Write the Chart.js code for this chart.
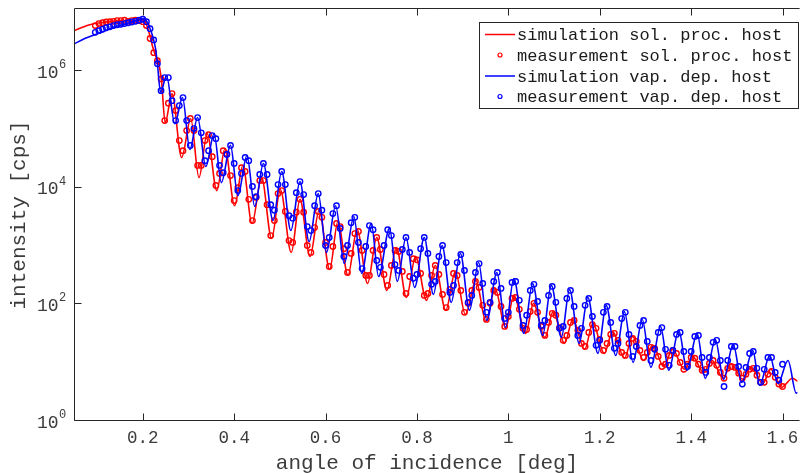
<!DOCTYPE html>
<html>
<head>
<meta charset="utf-8">
<script src="https://cdn.jsdelivr.net/npm/chart.js@4.4.1/dist/chart.umd.min.js"></script>
<style>
  html, body { margin: 0; padding: 0; background: #fff; overflow: hidden; }
  canvas { display: block; }
</style>
</head>
<body>
<canvas id="c" width="803" height="473"></canvas>
<script>
// Measurement scan angles [deg], shared by both samples
const scanAngles = [
  0.096,0.104,0.112,0.120,0.128,0.136,0.144,0.152,0.160,0.168,
  0.176,0.184,0.192,0.200,0.208,0.216,0.224,0.232,0.240,0.248,
  0.256,0.264,0.272,0.280,0.288,0.296,0.304,0.312,0.320,0.328,
  0.336,0.344,0.352,0.360,0.368,0.376,0.384,0.392,0.400,0.408,
  0.416,0.424,0.432,0.440,0.448,0.456,0.464,0.472,0.480,0.488,
  0.496,0.504,0.512,0.520,0.528,0.536,0.544,0.552,0.560,0.568,
  0.576,0.584,0.592,0.600,0.608,0.616,0.624,0.632,0.640,0.648,
  0.656,0.664,0.672,0.680,0.688,0.696,0.704,0.712,0.720,0.728,
  0.736,0.744,0.752,0.760,0.768,0.776,0.784,0.792,0.800,0.808,
  0.816,0.824,0.832,0.840,0.848,0.856,0.864,0.872,0.880,0.888,
  0.896,0.904,0.912,0.920,0.928,0.936,0.944,0.952,0.960,0.968,
  0.976,0.984,0.992,1.000,1.008,1.016,1.024,1.032,1.040,1.048,
  1.056,1.064,1.072,1.080,1.088,1.096,1.104,1.112,1.120,1.128,
  1.136,1.144,1.152,1.160,1.168,1.176,1.184,1.192,1.200,1.208,
  1.216,1.224,1.232,1.240,1.248,1.256,1.264,1.272,1.280,1.288,
  1.296,1.304,1.312,1.320,1.328,1.336,1.344,1.352,1.360,1.368,
  1.376,1.384,1.392,1.400,1.408,1.416,1.424,1.432,1.440,1.448,
  1.456,1.464,1.472,1.480,1.488,1.496,1.504,1.512,1.520,1.528,
  1.536,1.544,1.552,1.560,1.568,1.576,1.584,1.592,1.600
];

// Measured intensity [cps], solution-processed host
const measSolProc = [
  6.0e6,6.5e6,6.7e6,6.9e6,7.0e6,7.1e6,7.3e6,7.3e6,7.4e6,7.1e6,
  7.3e6,7.4e6,7.3e6,7.0e6,6.0e6,3.6e6,2.06e6,1.5e6,7.3e5,1.41e5,
  2.8e5,4.1e5,2.09e5,6.4e4,4.3e4,9.5e4,1.53e5,9.5e4,2.4e4,2.4e4,
  6.4e4,8.1e4,3.4e4,1.09e4,1.75e4,4.3e4,3.8e4,1.61e4,6.0e3,1.0e4,
  2.2e4,1.89e4,6.3e3,2.73e3,6.8e3,1.32e4,1.32e4,5.1e3,1.51e3,2.73e3,
  7.9e3,8.9e3,3.9e3,1.24e3,1.15e3,3.8e3,6.3e3,3.8e3,1.02e3,775,
  2.07e3,3.9e3,3.1e3,1.15e3,445,980,2.43e3,2.15e3,900,352,
  745,1.63e3,1.77e3,838,313,313,838,1.4e3,870,325,
  211,464,838,805,366,154,300,605,580,338,
  142,154,313,464,325,148,88,180,338,313,
  173,73,104,173,247,195,96,55,104,173,
  160,92,41.8,62,126,131,82,38.7,37,75,
  104,73,41.8,29.3,49,70,65,40,24.1,29.3,
  49,53,35.7,21.4,19.0,33,45,38.7,25,16.2,
  21.4,30.5,31.8,24.1,15.0,13.3,21.4,26.1,23.1,16.2,
  12.3,15.0,18.3,17.6,12.8,8.6,9.4,13.3,16.2,14.4,
  10.1,7.7,9.4,12.3,11.9,9.4,7.4,7.7,9.7,10.9,
  9.0,6.8,5.4,8.0,8.6,8.3,6.6,5.4,6.3,7.7,
  8.0,6.1,4.6,4.6,6.3,7.1,5.6,4.3,3.9
];

// Measured intensity [cps], vapour-deposited host
const measVapDep = [
  4.6e6,4.9e6,5.2e6,5.5e6,5.7e6,6.0e6,6.2e6,6.3e6,6.5e6,6.7e6,
  6.9e6,7.1e6,7.4e6,7.7e6,7.0e6,5.3e6,3.4e6,1.33e6,4.6e5,7.7e5,
  7.7e5,3.1e5,1.41e5,2.55e5,3.5e5,1.41e5,5.3e4,1.03e5,1.59e5,8.7e4,
  2.9e4,4.3e4,7.8e4,6.9e4,2.4e4,1.8e4,3.7e4,5.3e4,2.6e4,8.9e3,
  1.75e4,3.3e4,2.9e4,1.05e4,7.0e3,1.68e4,2.6e4,1.68e4,5.1e3,4.1e3,
  1.13e4,1.89e4,1.13e4,3.3e3,3.0e3,8.2e3,1.27e4,7.6e3,2.15e3,1.84e3,
  4.9e3,7.9e3,4.1e3,1.02e3,1.4e3,3.6e3,4.9e3,2.0e3,660,1.02e3,
  2.5e3,3.1e3,1.15e3,410,980,2.24e3,1.9e3,565,430,1.02e3,
  1.9e3,1.51e3,480,381,870,1.4e3,775,280,325,900,
  1.4e3,745,220,247,660,1.02e3,520,160,211,520,
  715,381,108,142,352,500,228,73,108,247,
  352,187,57,73,237,247,117,43.5,65,173,
  220,112,43.5,53,142,203,108,38.7,41.8,126,
  173,92,29.3,38.7,96,126,62,19.8,24.1,73,
  92,49,17.6,21.4,57,73,30.5,12.8,19.0,43.5,
  53,23.1,10.9,16.9,33,40,16.9,9.0,16.2,30.5,
  33,15.6,8.6,15.6,28.2,29.3,12.3,6.8,12.3,22.3,
  24.1,10.9,3.9,10.9,19.0,19.0,8.6,4.3,8.3,14.4,
  15.6,8.0,4.6,7.7,12.3,12.3,6.8,5.0,9.4
];

// Simulated reflectivity, solution-processed host (fringe maxima and minima)
const simSolAngles = [
  0.0495,0.084,0.128,0.171,0.199,0.208,0.215,0.221,0.228,0.234,
  0.241,0.249,0.264,0.285,0.305,0.323,0.341,0.362,0.380,0.401,
  0.419,0.439,0.460,0.482,0.501,0.525,0.544,0.566,0.586,0.609,
  0.627,0.649,0.669,0.692,0.712,0.734,0.755,0.777,0.797,0.821,
  0.840,0.863,0.884,0.906,0.929,0.951,0.971,0.994,1.012,1.038,
  1.055,1.080,1.098,1.123,1.141,1.167,1.185,1.210,1.228,1.254,
  1.272,1.296,1.316,1.340,1.359,1.385,1.403,1.427,1.446,1.470,
  1.487,1.513,1.531,1.557,1.574,1.598,1.622,1.633
];
const simSolProc = [
  4.9e6,6.2e6,7.0e6,7.3e6,7.3e6,6.2e6,4.2e6,2.7e6,1.83e6,1.44e6,
  6.8e5,1.3e5,4.1e5,3.3e4,1.52e5,1.49e4,8.4e4,8.9e3,4.7e4,4.9e3,
  2.4e4,2.43e3,1.49e4,1.34e3,9.3e3,774,6.3e3,661,4.1e3,396,
  2.63e3,313,1.92e3,228,1.4e3,173,944,131,661,117,
  464,79,366,67,257,51,187,38.7,142,31.8,
  104,27.1,75,21.4,55,16.9,47.1,14.4,34.4,11.9,
  28.2,10.9,19.8,8.6,16.9,7.7,12.8,6.8,10.9,5.4,
  9.4,5.2,8.3,4.4,7.7,3.8,5.4,4.8
];

// Simulated reflectivity, vapour-deposited host (fringe maxima and minima)
const simVapAngles = [
  0.0495,0.073,0.106,0.139,0.171,0.193,0.204,0.210,0.217,0.223,
  0.228,0.232,0.239,0.252,0.270,0.287,0.303,0.320,0.338,0.356,
  0.372,0.392,0.408,0.428,0.445,0.464,0.485,0.504,0.524,0.544,
  0.564,0.584,0.602,0.622,0.641,0.662,0.679,0.700,0.716,0.740,
  0.757,0.776,0.795,0.816,0.836,0.855,0.875,0.895,0.915,0.935,
  0.953,0.975,0.994,1.012,1.034,1.053,1.075,1.094,1.116,1.134,
  1.155,1.174,1.196,1.214,1.235,1.254,1.273,1.293,1.312,1.333,
  1.351,1.373,1.391,1.413,1.431,1.453,1.471,1.492,1.511,1.535,
  1.550,1.572,1.590,1.612,1.630,1.633
];
const simVapDep = [
  2.9e6,3.6e6,4.5e6,5.7e6,6.7e6,7.6e6,7.9e6,6.7e6,5.1e6,3.6e6,
  2.4e6,1.33e6,4.3e5,8.3e5,1.25e5,3.5e5,4.5e4,1.59e5,2.3e4,8.4e4,
  1.22e4,5.3e4,7.3e3,3.55e4,4.75e3,2.6e4,2.73e3,1.89e4,1.84e3,1.27e4,
  1.19e3,7.9e3,774,4.9e3,501,3.2e3,338,2.43e3,300,2.0e3,
  247,1.4e3,195,1.4e3,148,1.02e3,108,744,79,521,
  53,352,40,277,31.8,228,29.3,211,27.1,180,
  21.4,131,14.4,96,13.3,75,10.1,55,8.3,41.8,
  7.4,35.7,7.4,31.8,5.4,25,5.2,20.6,4.6,16.2,
  4.1,13.3,4.4,10.9,3.0,3.1
];

const seriesLabels = [
  'simulation sol. proc. host',
  'measurement sol. proc. host',
  'simulation vap. dep. host',
  'measurement vap. dep. host'
];
const yTickExponents = [0, 2, 4, 6];
const xTitle = 'angle of incidence [deg]';
const yTitle = 'intensity [cps]';

const RED = '#ff0000';
const BLUE = '#0000ff';
const AXIS = '#262626';
const LABEL = '#3c3c3c';
const MONO = '"Liberation Mono", "Courier New", monospace';

const pairs = (xs, ys) => xs.map((x, i) => ({ x: x, y: ys[i] }));

// Axes frame, inward ticks, power-of-ten labels, axis titles and boxed legend
const decorations = {
  id: 'decorations',
  afterDraw(chart) {
    const ctx = chart.ctx;
    const a = chart.chartArea;
    const xs = chart.scales.x, ys = chart.scales.y;
    const L = a.left + 0.5, B = a.bottom - 0.5, T = a.top + 0.5;
    ctx.save();
    ctx.strokeStyle = AXIS;
    ctx.lineWidth = 1;
    ctx.beginPath();
    ctx.moveTo(a.right + 2, T); ctx.lineTo(L, T); ctx.lineTo(L, B); ctx.lineTo(a.right + 2, B);
    xs.ticks.forEach(t => {
      const px = Math.round(xs.getPixelForValue(t.value)) + 0.5;
      ctx.moveTo(px, B); ctx.lineTo(px, B - 7);
      ctx.moveTo(px, T); ctx.lineTo(px, T + 7);
    });
    yTickExponents.forEach(e => {
      const py = Math.round(ys.getPixelForValue(Math.pow(10, e))) - 0.5;
      ctx.moveTo(L, py); ctx.lineTo(L + 7, py);
    });
    ctx.stroke();

    // y tick labels as 10 with raised exponent
    ctx.fillStyle = LABEL;
    yTickExponents.forEach(e => {
      const py = ys.getPixelForValue(Math.pow(10, e));
      ctx.font = '18px ' + MONO;
      ctx.textAlign = 'right';
      ctx.textBaseline = 'middle';
      ctx.fillText('10', 58.5, py + 2);
      ctx.font = '12px ' + MONO;
      ctx.textAlign = 'left';
      ctx.fillText(String(e), 59, py - 6);
    });

    // axis titles
    ctx.font = '21px ' + MONO;
    ctx.textAlign = 'center';
    ctx.textBaseline = 'middle';
    ctx.fillText(xTitle, 427, 463);
    ctx.save();
    ctx.translate(19, 215);
    ctx.rotate(-Math.PI / 2);
    ctx.fillText(yTitle, 0, 0);
    ctx.restore();

    // legend
    const bx = 479.5, by = 22.5, bw = 319, bh = 86;
    ctx.fillStyle = '#ffffff';
    ctx.fillRect(bx, by, bw, bh);
    ctx.strokeStyle = AXIS;
    ctx.strokeRect(bx, by, bw, bh);
    const rows = [34.5, 55, 76, 96.5];
    const styles = [
      { color: RED, line: true }, { color: RED, line: false },
      { color: BLUE, line: true }, { color: BLUE, line: false }
    ];
    ctx.font = '17px ' + MONO;
    ctx.textAlign = 'left';
    ctx.textBaseline = 'middle';
    rows.forEach((ry, i) => {
      const s = styles[i];
      ctx.strokeStyle = s.color;
      if (s.line) {
        ctx.lineWidth = 1.5;
        ctx.beginPath(); ctx.moveTo(485, ry); ctx.lineTo(515, ry); ctx.stroke();
      } else {
        ctx.lineWidth = 1.2;
        ctx.beginPath(); ctx.arc(500, ry, 2, 0, Math.PI * 2); ctx.stroke();
      }
      ctx.fillStyle = '#1a1a1a';
      ctx.fillText(seriesLabels[i], 517, ry + 1);
    });
    ctx.restore();
  }
};

new Chart(document.getElementById('c'), {
  type: 'line',
  data: {
    datasets: [
      {
        label: seriesLabels[0], data: pairs(simSolAngles, simSolProc),
        borderColor: RED, borderWidth: 1.6, pointRadius: 0,
        cubicInterpolationMode: 'monotone', fill: false, order: 4
      },
      {
        label: seriesLabels[1], data: pairs(scanAngles, measSolProc),
        showLine: false, borderColor: RED, backgroundColor: 'rgba(0,0,0,0)',
        pointStyle: 'circle', pointRadius: 2.7, pointBorderWidth: 1.4,
        pointBorderColor: RED, pointBackgroundColor: 'rgba(0,0,0,0)', order: 3
      },
      {
        label: seriesLabels[2], data: pairs(simVapAngles, simVapDep),
        borderColor: BLUE, borderWidth: 1.6, pointRadius: 0,
        cubicInterpolationMode: 'monotone', fill: false, order: 2
      },
      {
        label: seriesLabels[3], data: pairs(scanAngles, measVapDep),
        showLine: false, borderColor: BLUE, backgroundColor: 'rgba(0,0,0,0)',
        pointStyle: 'circle', pointRadius: 2.7, pointBorderWidth: 1.4,
        pointBorderColor: BLUE, pointBackgroundColor: 'rgba(0,0,0,0)', order: 1
      }
    ]
  },
  options: {
    responsive: false,
    animation: false,
    events: [],
    layout: { padding: { left: 0, right: 0, top: 8, bottom: 0 } },
    plugins: { legend: { display: false }, tooltip: { enabled: false } },
    scales: {
      x: {
        type: 'linear',
        min: 0.0495,
        max: 1.633,
        grid: { display: false, drawTicks: false },
        border: { display: false },
        ticks: {
          stepSize: 0.2,
          includeBounds: false,
          padding: 7,
          maxRotation: 0,
          color: LABEL,
          font: { family: MONO, size: 17.5 },
          callback: v => String(Number(v.toFixed(1)))
        },
        afterFit(s) { s.height = 52; s.paddingLeft = 0; s.paddingRight = 0; }
      },
      y: {
        type: 'logarithmic',
        min: 1,
        max: 1.2e7,
        grid: { display: false, drawTicks: false },
        border: { display: false },
        ticks: { display: false },
        afterFit(s) { s.width = 74; s.paddingTop = 0; s.paddingBottom = 0; }
      }
    }
  },
  plugins: [decorations]
});
</script>
</body>
</html>
